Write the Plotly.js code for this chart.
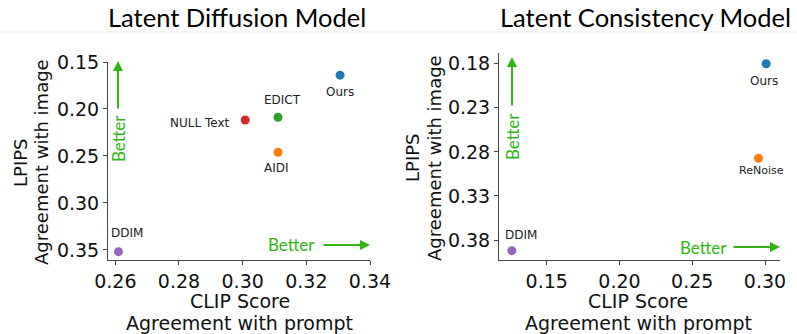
<!DOCTYPE html>
<html>
<head>
<meta charset="utf-8">
<script src="https://cdn.plot.ly/plotly-3.0.1.min.js"></script>
<style>html,body{margin:0;padding:0;background:#fff;}#chart{width:797px;height:334px;}</style>
</head>
<body>
<div id="chart"></div>
<script>
// Left panel: Latent Diffusion Model
const ldmMethods = ["Ours", "EDICT", "NULL Text", "AIDI", "DDIM"];
const ldmClip    = [0.3306, 0.3111, 0.3008, 0.3111, 0.2610];
const ldmLpips   = [0.164, 0.2088, 0.2117, 0.246, 0.3518];
const ldmColors  = ["#1f77b4", "#2ca02c", "#d62728", "#ff7f0e", "#9467bd"];

// Right panel: Latent Consistency Model
const lcmMethods = ["Ours", "ReNoise", "DDIM"];
const lcmClip    = [0.3008, 0.2955, 0.126];
const lcmLpips   = [0.180, 0.2872, 0.3921];
const lcmColors  = ["#1f77b4", "#ff7f0e", "#9467bd"];

const ldmXTicks = [0.26, 0.28, 0.30, 0.32, 0.34];
const ldmYTicks = [0.15, 0.20, 0.25, 0.30, 0.35];
const lcmXTicks = [0.15, 0.20, 0.25, 0.30];
const lcmYTicks = [0.18, 0.23, 0.28, 0.33, 0.38];

const W = 797, H = 334;
const px = x => x / W;
const py = y => 1 - y / H;
const GREEN = "#33b516";
const tickFont = {family: "DejaVu Sans", size: 19, color: "#111"};
const titleFam = "Lato, 'Open Sans', sans-serif";

const traces = [
  {x: ldmClip, y: ldmLpips, type: "scatter", mode: "markers", xaxis: "x", yaxis: "y",
   marker: {size: 9, color: ldmColors}, hoverinfo: "skip", showlegend: false},
  {x: lcmClip, y: lcmLpips, type: "scatter", mode: "markers", xaxis: "x2", yaxis: "y2",
   marker: {size: 9, color: lcmColors}, hoverinfo: "skip", showlegend: false}
];

// label placement: [side, xshift, yshift] in pixels
const ldmPlace = {"Ours": ["below", 0, -17], "EDICT": ["above", 4, 17], "NULL Text": ["left", -13, -3], "AIDI": ["below", -2, -16], "DDIM": ["above", 8, 19]};
const lcmPlace = {"Ours": ["below", -2, -17], "ReNoise": ["below", 3, -12], "DDIM": ["above", 9, 16]};

const annotations = [];
function addLabels(methods, xs, ys, pl, xref, yref) {
  methods.forEach((m, i) => {
    const p = pl[m];
    annotations.push({
      x: xs[i], y: ys[i], xref: xref, yref: yref, text: m, showarrow: false,
      xanchor: p[0] === "left" ? "right" : "center", yanchor: "middle",
      xshift: p[1], yshift: p[2],
      font: {family: "DejaVu Sans", size: m === "ReNoise" ? 11 : 12, color: "#222"}
    });
  });
}
addLabels(ldmMethods, ldmClip, ldmLpips, ldmPlace, "x", "y");
addLabels(lcmMethods, lcmClip, lcmLpips, lcmPlace, "x2", "y2");

// Titles
annotations.push({x: px(237), y: py(17), xref: "paper", yref: "paper", text: "Latent Diffusion Model",
  showarrow: false, xanchor: "center", yanchor: "middle", font: {family: titleFam, size: 25.5, color: "#000"}});
annotations.push({x: px(645), y: py(17), xref: "paper", yref: "paper", text: "Latent Consistency Model",
  showarrow: false, xanchor: "center", yanchor: "middle", font: {family: titleFam, size: 25.5, color: "#000"}});

// Axis titles
const axFontX = {family: "DejaVu Sans", size: 19, color: "#111"};
const axFontY = {family: "DejaVu Sans", size: 18, color: "#111"};
[[240, "CLIP Score", 301], [240, "Agreement with prompt", 322.5], [638, "CLIP Score", 301], [638, "Agreement with prompt", 322.5]]
  .forEach(a => annotations.push({x: px(a[0]), y: py(a[2]), xref: "paper", yref: "paper", text: a[1],
    showarrow: false, xanchor: "center", yanchor: "middle", font: axFontX}));
[[20, "LPIPS", 163], [42, "Agreement with image", 162], [412, "LPIPS", 158], [434, "Agreement with image", 158]]
  .forEach(a => annotations.push({x: px(a[0]), y: py(a[2]), xref: "paper", yref: "paper", text: a[1],
    showarrow: false, xanchor: "center", yanchor: "middle", textangle: -90, font: axFontY}));

// Better arrows
const betterFont = {family: titleFam, size: 17, color: GREEN};
function vArrow(x, yHead, yTail, yText) {
  annotations.push({x: px(x), y: py(yHead), xref: "paper", yref: "paper", ax: 0, ay: yTail - yHead,
    showarrow: true, arrowhead: 2, arrowsize: 1, arrowwidth: 2, arrowcolor: GREEN, text: ""});
  annotations.push({x: px(x), y: py(yText), xref: "paper", yref: "paper", text: "Better", textangle: -90,
    showarrow: false, xanchor: "center", yanchor: "middle", font: betterFont});
}
function hArrow(xHead, xTail, y, xText) {
  annotations.push({x: px(xHead), y: py(y), xref: "paper", yref: "paper", ax: xTail - xHead, ay: 0,
    showarrow: true, arrowhead: 2, arrowsize: 1, arrowwidth: 2, arrowcolor: GREEN, text: ""});
  annotations.push({x: px(xText), y: py(y), xref: "paper", yref: "paper", text: "Better",
    showarrow: false, xanchor: "center", yanchor: "middle", font: betterFont});
}
vArrow(118, 61, 110, 139);
hArrow(370, 322, 245, 291);
vArrow(512, 57, 107, 136);
hArrow(780, 732, 247, 703);

function axis(domain, range, ticks, anchor) {
  return {domain: domain, range: range, tickvals: ticks, ticktext: ticks.map(t => t.toFixed(2)),
    showgrid: false, zeroline: false, showline: true, linecolor: "#444", linewidth: 1,
    ticks: "outside", ticklen: 4, tickcolor: "#444", tickfont: tickFont, anchor: anchor, fixedrange: true};
}

const layout = {
  width: W, height: H, margin: {l: 0, r: 0, t: 0, b: 0},
  paper_bgcolor: "#fff", plot_bgcolor: "rgba(0,0,0,0)", showlegend: false,
  xaxis: axis([px(108), px(370)], [0.2577, 0.34], ldmXTicks, "y"),
  yaxis: axis([py(260), py(62)], [0.3607, 0.15], ldmYTicks, "x"),
  xaxis2: axis([px(499), px(780)], [0.1172, 0.3103], lcmXTicks, "y2"),
  yaxis2: axis([py(260), py(53)], [0.4027, 0.1678], lcmYTicks, "x2"),
  shapes: [{type: "line", xref: "paper", yref: "paper", x0: 0, x1: 1, y0: py(32), y1: py(32),
    line: {color: "#ebebeb", width: 1}}],
  annotations: annotations
};

Plotly.newPlot("chart", traces, layout, {staticPlot: true, displayModeBar: false});
</script>
</body>
</html>
